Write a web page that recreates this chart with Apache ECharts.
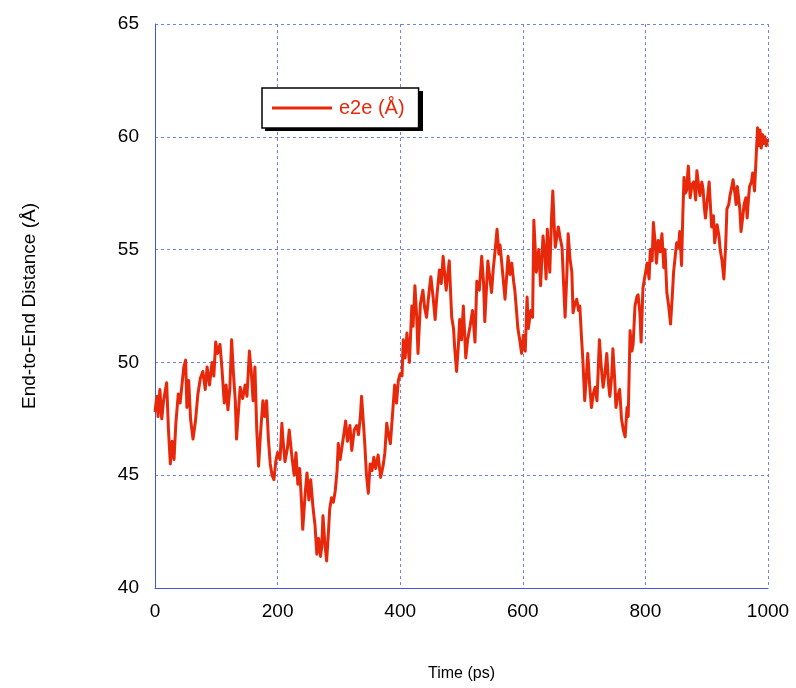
<!DOCTYPE html>
<html>
<head>
<meta charset="utf-8">
<script src="https://cdn.jsdelivr.net/npm/echarts@6/dist/echarts.min.js"></script>
<style>html,body{margin:0;padding:0;background:#fff}#c{width:796px;height:688px}</style>
</head>
<body>
<div id="c"></div>
<script>
const seriesName = 'e2e (Å)';
const xTicks = [0, 200, 400, 600, 800, 1000];
const yTicks = [40, 45, 50, 55, 60, 65];
const time = [0,3,5,8,11,14,19,22,25,28,31,34,38,41,44,47,50,52,55,58,62,66,70,74,78,82,85,89,93,96,99,102,106,109,113,116,119,122,125,128,131,133,136,139,143,147,150,154,157,160,163,166,169,172,176,179,182,185,188,191,194,197,200,204,207,209,212,216,219,223,227,230,233,236,239,241,245,248,251,254,258,261,264,267,270,272,274,277,280,283,285,288,291,294,297,299,302,305,308,311,314,318,321,325,329,332,335,337,340,342,345,348,351,354,357,360,364,368,372,375,378,381,384,388,391,394,397,400,403,405,408,411,415,419,421,424,427,429,433,437,440,443,447,450,454,457,460,464,467,470,475,480,484,487,489,492,495,497,500,503,507,510,514,518,522,525,529,533,536,538,543,546,549,552,555,558,561,563,567,571,576,579,582,585,587,590,592,595,598,601,604,607,609,613,616,618,620,622,626,629,633,636,638,640,644,647,649,651,653,658,661,664,667,669,672,674,677,680,682,685,688,691,693,696,698,701,704,706,709,712,715,718,721,725,728,731,734,737,740,742,745,747,750,752,755,758,761,764,767,770,772,775,778,780,783,786,788,791,793,796,799,803,806,808,811,813,816,818,821,824,827,830,832,835,838,841,844,846,849,851,854,856,859,861,863,865,867,870,873,876,879,882,884,887,889,892,894,896,898,901,904,906,908,911,913,915,917,920,922,925,928,931,933,936,938,941,943,946,948,950,952,954,956,959,961,964,966,968,970,973,975,978,981,983,985,987,989,991,993,995,997,1000];
const distance = [47.8,48.5,47.6,48.8,47.5,48.3,49.1,47.0,45.5,46.5,45.7,47.3,48.6,48.2,49.0,49.8,50.1,48.0,49.2,47.5,46.6,47.4,48.6,49.3,49.6,48.8,49.8,49.0,50.0,49.4,50.9,50.4,50.8,49.8,48.2,49.0,47.9,48.8,51.0,49.5,48.3,46.6,47.8,48.9,48.4,49.0,48.5,50.5,49.6,48.3,49.8,47.0,45.4,46.8,48.3,47.6,48.3,46.6,45.5,45.0,44.8,45.6,46.0,45.7,47.3,46.5,45.6,46.2,47.0,45.9,45.0,46.0,44.6,45.3,43.8,42.6,44.2,45.1,43.9,44.8,43.5,42.8,41.5,42.2,41.4,41.8,43.2,42.0,41.2,42.5,43.5,44.0,43.8,44.3,45.2,46.4,45.7,45.7,46.8,47.4,46.5,47.2,46.1,47.0,47.2,46.8,47.6,48.5,47.3,46.5,45.0,44.2,45.5,45.2,45.8,45.3,45.9,44.9,45.4,46.0,47.3,46.8,46.4,47.9,49.0,48.2,49.2,49.5,49.4,51.0,50.2,51.3,50.0,52.5,51.6,53.4,52.0,50.4,52.6,53.2,52.4,52.0,53.1,53.8,52.8,51.9,53.0,54.1,53.5,54.7,53.2,54.5,52.0,51.5,50.6,49.6,50.8,51.9,51.0,52.5,50.2,51.0,51.6,52.3,50.9,53.6,53.2,54.7,53.5,51.8,54.5,53.8,53.1,54.2,55.0,55.9,54.8,55.2,54.0,52.8,54.7,53.9,54.4,53.6,53.2,52.2,51.5,51.0,50.4,51.2,50.5,52.9,51.5,52.3,52.0,56.3,55.2,54.0,55.0,53.4,55.6,54.8,53.7,55.9,54.0,56.5,57.6,56.2,55.1,56.0,55.5,55.1,53.2,52.0,54.0,55.7,54.6,54.0,52.2,52.6,52.8,52.3,52.5,51.0,50.1,48.3,49.5,50.4,49.0,48.0,48.6,48.9,48.3,51.0,49.8,48.9,49.5,50.4,49.0,48.5,49.4,50.6,49.2,48.0,48.5,48.8,47.5,47.0,46.7,48.0,47.6,51.4,50.5,50.8,52.5,52.9,53.0,52.2,50.9,53.3,53.8,54.4,53.7,55.0,54.5,56.2,55.3,54.4,55.4,54.9,55.7,54.2,55.0,53.1,52.5,51.7,53.0,54.0,54.8,55.3,55.1,55.8,54.3,56.5,58.2,57.5,57.6,58.7,57.3,57.9,58.0,57.2,58.5,57.8,57.4,58.0,57.7,56.9,56.4,57.2,58.0,57.0,56.0,56.5,55.3,55.7,56.1,55.6,55.0,54.5,53.7,55.2,56.8,57.0,57.4,57.8,58.1,57.5,57.0,57.8,57.8,56.8,55.8,56.5,57.0,57.3,56.4,57.2,57.8,58.0,58.4,57.6,59.3,60.4,59.6,60.3,59.5,60.1,59.7,60.0,59.6,59.9];

const red = '#e8280a';
const gridBlue = '#6f82e8';
const axisBlue = '#3f55e0';
const font = 'Liberation Sans, Arial, Helvetica, sans-serif';
const data = time.map((t, i) => [t, distance[i]]);

const chart = echarts.init(document.getElementById('c'), null, {renderer: 'canvas'});
chart.setOption({
  animation: false,
  backgroundColor: '#fff',
  grid: {left: 155, right: 28, top: 24, bottom: 100, show: false, containLabel: false},
  graphic: [{
    type: 'rect', z: 3, silent: true,
    shape: {x: 265, y: 91, width: 158, height: 40},
    style: {fill: '#000'}
  }],
  legend: {
    left: 262, top: 88, z: 10,
    data: [seriesName],
    icon: 'rect', itemWidth: 60, itemHeight: 3, itemGap: 8,
    padding: [10, 14, 10, 10],
    backgroundColor: '#fff',
    borderColor: '#000', borderWidth: 1.5, borderRadius: 0,
    textStyle: {color: red, fontSize: 20, fontFamily: font, padding: [0, 0, 0, 2]}
  },
  xAxis: {
    type: 'value', min: 0, max: 1000, interval: 200,
    name: 'Time (ps)', nameLocation: 'middle', nameGap: 78,
    nameTextStyle: {fontSize: 16, color: '#000', fontFamily: font},
    axisLine: {show: true, lineStyle: {color: axisBlue, width: 1}},
    axisTick: {show: false},
    axisLabel: {fontSize: 19, color: '#000', fontFamily: font, margin: 14,
      formatter: v => xTicks.includes(v) ? String(v) : ''},
    splitLine: {show: true, lineStyle: {color: gridBlue, type: [3, 3], width: 1}}
  },
  yAxis: {
    type: 'value', min: 40, max: 65, interval: 5,
    name: 'End-to-End Distance (Å)', nameLocation: 'middle', nameGap: 116, nameRotate: 90,
    nameTextStyle: {fontSize: 19, color: '#000', fontFamily: font},
    axisLine: {show: true, lineStyle: {color: axisBlue, width: 1}},
    axisTick: {show: false},
    axisLabel: {fontSize: 19, color: '#000', fontFamily: font, margin: 16,
      formatter: v => yTicks.includes(v) ? String(v) : ''},
    splitLine: {show: true, lineStyle: {color: gridBlue, type: [3, 3], width: 1}}
  },
  series: [{
    name: seriesName, type: 'line', data: data,
    showSymbol: false, symbol: 'none',
    lineStyle: {color: red, width: 3, join: 'round'},
    itemStyle: {color: red}
  }]
});
</script>
</body>
</html>
